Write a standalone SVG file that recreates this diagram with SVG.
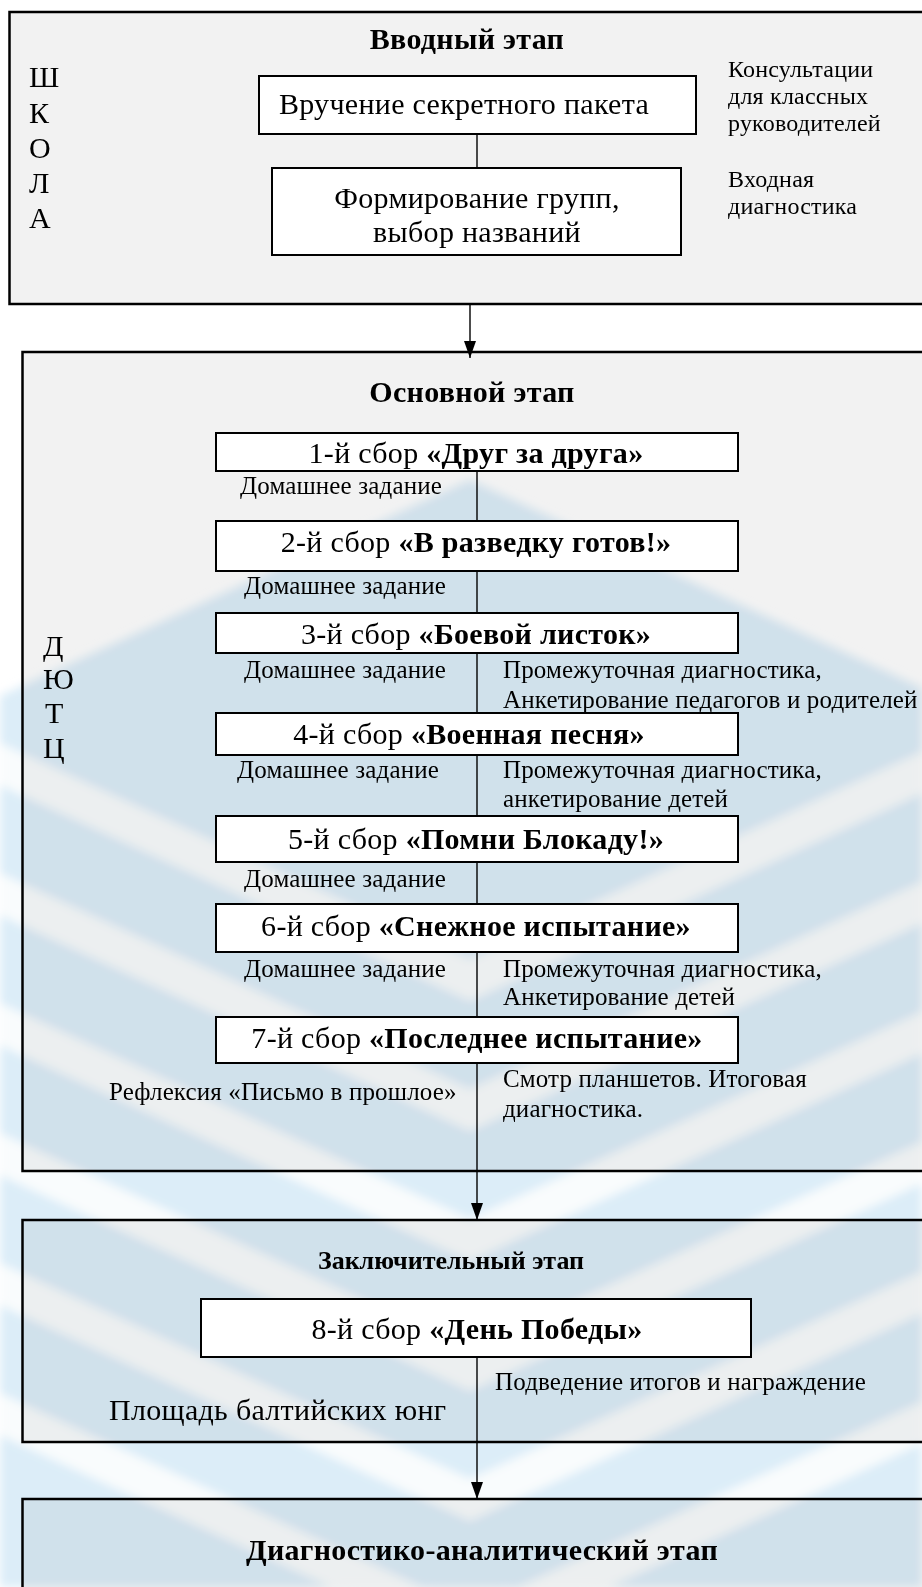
<svg xmlns="http://www.w3.org/2000/svg" width="922" height="1587" viewBox="0 0 922 1587">
<style>
text{font-family:"Liberation Serif","Times New Roman",serif;fill:#000}
.t{font-size:30px;letter-spacing:0.3px}
.s{font-size:25px;letter-spacing:0.15px}
.r{font-size:24px;letter-spacing:0.2px}
.m{font-size:26px}
.b{font-weight:bold}
.stage{fill:#f2f2f2;stroke:#000;stroke-width:2.5}
.box{fill:#fff;stroke:#000;stroke-width:2}
.ln{stroke:#000;stroke-width:1.4;fill:none}
.wm{mix-blend-mode:multiply}
</style>
<defs>
<marker id="ah" markerWidth="17" markerHeight="12" refX="17" refY="6" orient="auto" markerUnits="userSpaceOnUse" viewBox="0 0 17 12">
<path d="M0,0 L17,6 L0,12 Z" fill="#000"/>
</marker>
<filter id="soft" x="-5%" y="-5%" width="110%" height="110%"><feGaussianBlur stdDeviation="5"/></filter>
</defs>
<rect width="922" height="1587" fill="#fff"/>
<g id="stage1"><rect class="stage" x="9.5" y="12" width="930" height="292"/></g>
<g id="stage2"><rect class="stage" x="22.5" y="352" width="920" height="819"/></g>
<g id="stage3"><rect class="stage" x="22.5" y="1220" width="920" height="222"/></g>
<g id="stage4"><rect class="stage" x="22.5" y="1499" width="920" height="200"/></g>
<g id="watermark" class="wm" filter="url(#soft)">
<polygon points="0,696 470,480 922,688 922,1587 0,1587" fill="#dcedf8"/>
<g stroke="#fff" stroke-width="38" fill="none" opacity="0.85">
<polyline points="-20,755 470,980 960,755"/>
<polyline points="-20,885 470,1110 960,885"/>
<polyline points="-20,1015 470,1240 960,1015"/>
<polyline points="-20,1145 470,1370 960,1145"/>
<polyline points="-20,1275 470,1500 960,1275"/>
<polyline points="-20,1405 470,1630 960,1405"/>
</g>
</g>
<g id="stage1-labels">
<text class="t b" x="467" y="49" text-anchor="middle">Вводный этап</text>
<text class="t" x="29" y="87">Ш</text>
<text class="t" x="29" y="123">К</text>
<text class="t" x="29" y="158">О</text>
<text class="t" x="29" y="193">Л</text>
<text class="t" x="29" y="228">А</text>
<text class="r" x="728" y="77">Консультации</text>
<text class="r" x="728" y="104">для классных</text>
<text class="r" x="728" y="131">руководителей</text>
<text class="r" x="728" y="187">Входная</text>
<text class="r" x="728" y="214">диагностика</text>
</g>
<g id="connectors">
<line class="ln" x1="477" y1="134" x2="477" y2="168"/>
<line class="ln" x1="470" y1="304" x2="470" y2="358" marker-end="url(#ah)"/>
<line class="ln" x1="477" y1="471" x2="477" y2="1171"/>
<line class="ln" x1="477" y1="1171" x2="477" y2="1220" marker-end="url(#ah)"/>
<line class="ln" x1="477" y1="1357" x2="477" y2="1499" marker-end="url(#ah)"/>
</g>
<g id="n-packet"><rect class="box" x="259" y="76" width="437" height="58"/>
<text class="t" x="464" y="114" text-anchor="middle">Вручение секретного пакета</text></g>
<g id="n-groups"><rect class="box" x="272" y="168" width="409" height="87"/>
<text class="t" x="477" y="208" text-anchor="middle">Формирование групп,</text>
<text class="t" x="477" y="242" text-anchor="middle">выбор названий</text></g>
<g id="stage2-labels">
<text class="t b" x="472" y="402" text-anchor="middle">Основной этап</text>
<text class="t" x="43" y="656">Д</text>
<text class="t" x="43" y="689">Ю</text>
<text class="t" x="45" y="723">Т</text>
<text class="t" x="43" y="758">Ц</text>
<text class="s" x="240" y="494">Домашнее задание</text>
<text class="s" x="244" y="594">Домашнее задание</text>
<text class="s" x="244" y="678">Домашнее задание</text>
<text class="s" x="503" y="678">Промежуточная диагностика,</text>
<text class="s" x="503" y="708">Анкетирование педагогов и родителей</text>
<text class="s" x="237" y="778">Домашнее задание</text>
<text class="s" x="503" y="778">Промежуточная диагностика,</text>
<text class="s" x="503" y="807">анкетирование детей</text>
<text class="s" x="244" y="887">Домашнее задание</text>
<text class="s" x="244" y="977">Домашнее задание</text>
<text class="s" x="503" y="977">Промежуточная диагностика,</text>
<text class="s" x="503" y="1005">Анкетирование детей</text>
<text class="s" x="109" y="1100">Рефлексия «Письмо в прошлое»</text>
<text class="s" x="503" y="1087">Смотр планшетов. Итоговая</text>
<text class="s" x="503" y="1117">диагностика.</text>
</g>
<g id="n-s1"><rect class="box" x="216" y="433" width="522" height="38"/>
<text class="t" x="476" y="463" text-anchor="middle">1-й сбор <tspan class="b">«Друг за друга»</tspan></text></g>
<g id="n-s2"><rect class="box" x="216" y="521" width="522" height="50"/>
<text class="t" x="476" y="552" text-anchor="middle">2-й сбор <tspan class="b">«В разведку готов!»</tspan></text></g>
<g id="n-s3"><rect class="box" x="216" y="613" width="522" height="40"/>
<text class="t" x="476" y="644" text-anchor="middle">3-й сбор <tspan class="b">«Боевой листок»</tspan></text></g>
<g id="n-s4"><rect class="box" x="216" y="713" width="522" height="42"/>
<text class="t" x="469" y="744" text-anchor="middle">4-й сбор <tspan class="b">«Военная песня»</tspan></text></g>
<g id="n-s5"><rect class="box" x="216" y="816" width="522" height="46"/>
<text class="t" x="476" y="849" text-anchor="middle">5-й сбор <tspan class="b">«Помни Блокаду!»</tspan></text></g>
<g id="n-s6"><rect class="box" x="216" y="904" width="522" height="48"/>
<text class="t" x="476" y="936" text-anchor="middle">6-й сбор <tspan class="b">«Снежное испытание»</tspan></text></g>
<g id="n-s7"><rect class="box" x="216" y="1017" width="522" height="46"/>
<text class="t" x="477" y="1048" text-anchor="middle">7-й сбор <tspan class="b">«Последнее испытание»</tspan></text></g>
<g id="stage3-labels">
<text class="m b" x="451" y="1269" text-anchor="middle">Заключительный этап</text>
<text class="s" x="495" y="1390">Подведение итогов и награждение</text>
<text class="t" x="109" y="1420">Площадь балтийских юнг</text>
</g>
<g id="n-s8"><rect class="box" x="201" y="1299" width="550" height="58"/>
<text class="t" x="477" y="1339" text-anchor="middle">8-й сбор <tspan class="b">«День Победы»</tspan></text></g>
<g id="stage4-labels">
<text class="t b" x="482" y="1560" text-anchor="middle">Диагностико-аналитический этап</text>
</g>
</svg>
